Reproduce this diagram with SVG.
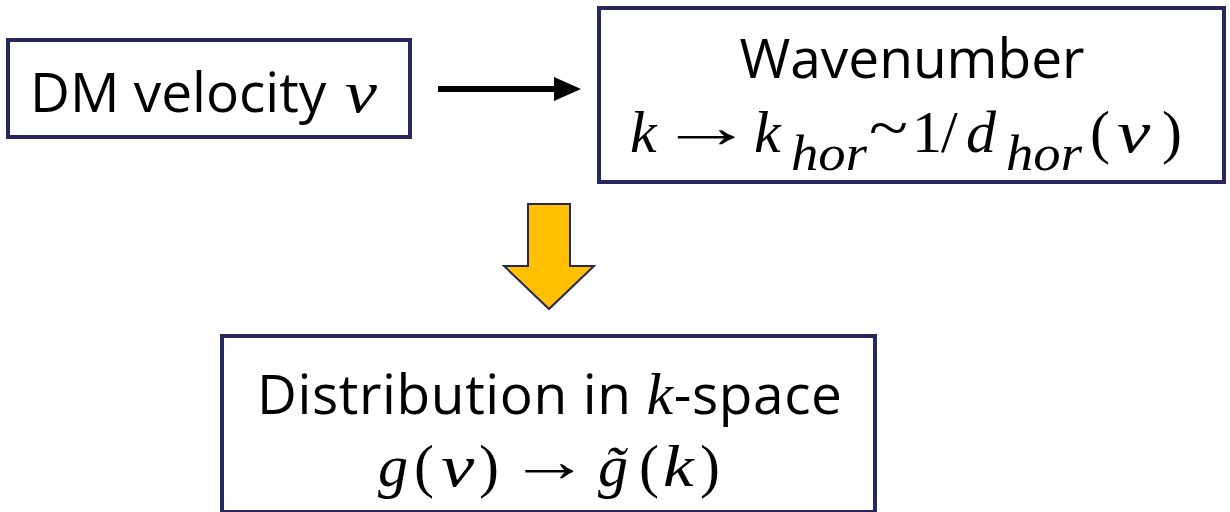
<svg xmlns="http://www.w3.org/2000/svg" width="1230" height="512" viewBox="0 0 1230 512">
  <style>
    .box { fill: #ffffff; stroke: #25275e; stroke-width: 4; }
    .txt { font-family: "Open Sans", "Liberation Sans", sans-serif; font-size: 55px; fill: #000000; }
    .m { font-family: "Liberation Serif", "Times New Roman", serif; font-size: 60px; fill: #000000; }
    .mi { font-style: italic; }
    .sub { font-family: "Liberation Serif", "Times New Roman", serif; font-size: 50px; font-style: italic; fill: #000000; }
  </style>
  <rect width="1230" height="512" fill="#ffffff"/>
  <g id="connectors">
    <line x1="438" y1="89" x2="556" y2="89" stroke="#000000" stroke-width="6"/>
    <polygon points="554,77 581,89 554,101" fill="#000000"/>
    <polygon points="528,204 570,204 570,266 594,266 549,309 504,266 528,266" fill="#ffc000" stroke="#25275e" stroke-width="2" stroke-linejoin="miter"/>
  </g>
  <g id="node-velocity">
    <rect class="box" x="8" y="40" width="402" height="97"/>
    <text class="txt" x="30" y="112">DM velocity</text>
    <text class="m mi" transform="translate(345,112) scale(1.2,1)">v</text>
  </g>
  <g id="node-wavenumber">
    <rect class="box" x="599" y="8" width="625" height="174"/>
    <text class="txt" x="912" y="78" text-anchor="middle">Wavenumber</text>
    <text class="m mi" x="630" y="152">k</text>
    <text class="m" transform="translate(658,147) scale(1.6,1)">→</text>
    <text class="m mi" x="754" y="152">k</text>
    <text class="sub" x="791" y="170" textLength="76" lengthAdjust="spacingAndGlyphs">hor</text>
    <text class="m" transform="translate(869,148) scale(1.2,1)">~</text>
    <text class="m" x="912" y="152">1</text>
    <text class="m" x="941" y="152">/</text>
    <text class="m mi" x="966" y="152">d</text>
    <text class="sub" x="1006" y="170" textLength="76" lengthAdjust="spacingAndGlyphs">hor</text>
    <text class="m" x="1090" y="152">(</text>
    <text class="m mi" transform="translate(1117,152) scale(1.25,1)">v</text>
    <text class="m" x="1162" y="152">)</text>
  </g>
  <g id="node-distribution">
    <rect class="box" x="222" y="336" width="653" height="176"/>
    <text class="txt" x="257" y="414" textLength="585" lengthAdjust="spacing">Distribution in <tspan class="m mi" font-size="60">k</tspan>-space</text>
    <text class="m mi" x="378" y="486">g</text>
    <text class="m" x="414" y="486">(</text>
    <text class="m mi" transform="translate(441,486) scale(1.25,1)">v</text>
    <text class="m" x="479" y="486">)</text>
    <text class="m" transform="translate(509,481) scale(1.35,1)">→</text>
    <text class="m mi" x="598" y="486">g&#x303;</text>
    <text class="m" x="639" y="486">(</text>
    <text class="m mi" transform="translate(663,486) scale(1.15,1)">k</text>
    <text class="m" x="700" y="486">)</text>
  </g>
</svg>
